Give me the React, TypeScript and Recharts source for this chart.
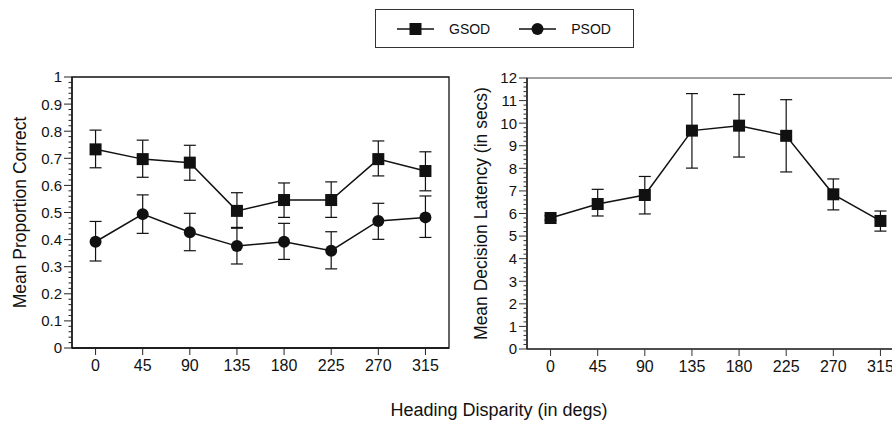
import React from 'react';
import { LineChart, Line, XAxis, YAxis, ErrorBar, ReferenceArea, Legend, Label } from 'recharts';

// ---- data ----
const headings = [0, 45, 90, 135, 180, 225, 270, 315];
const seriesNames = ['GSOD', 'PSOD'];

const gsodMean = [0.733, 0.697, 0.684, 0.506, 0.546, 0.546, 0.697, 0.653];
const gsodUpper = [0.804, 0.767, 0.748, 0.573, 0.609, 0.613, 0.764, 0.724];
const gsodLower = [0.665, 0.63, 0.619, 0.442, 0.482, 0.482, 0.635, 0.58];

const psodMean = [0.392, 0.494, 0.427, 0.376, 0.392, 0.359, 0.469, 0.482];
const psodUpper = [0.467, 0.565, 0.497, 0.445, 0.46, 0.429, 0.534, 0.561];
const psodLower = [0.321, 0.423, 0.359, 0.31, 0.327, 0.292, 0.401, 0.408];

const latencyMean = [5.8, 6.42, 6.82, 9.67, 9.89, 9.44, 6.85, 5.67];
const latencyUpper = [5.9, 7.07, 7.64, 11.31, 11.27, 11.04, 7.53, 6.11];
const latencyLower = [5.7, 5.89, 5.98, 8.01, 8.5, 7.84, 6.16, 5.22];

const propMajorTicks = [0, 0.1, 0.2, 0.3, 0.4, 0.5, 0.6, 0.7, 0.8, 0.9, 1];
const latMajorTicks = [0, 1, 2, 3, 4, 5, 6, 7, 8, 9, 10, 11, 12];
const minorPerMajor = 4;

const leftYLabel = 'Mean Proportion Correct';
const rightYLabel = 'Mean Decision Latency (in secs)';
const xLabel = 'Heading Disparity (in degs)';

// ---- derived tables ----
const propData = headings.map((h, i) => ({
  h,
  GSOD: gsodMean[i],
  gErr: [gsodMean[i] - gsodLower[i], gsodUpper[i] - gsodMean[i]],
  PSOD: psodMean[i],
  pErr: [psodMean[i] - psodLower[i], psodUpper[i] - psodMean[i]],
}));

const latData = headings.map((h, i) => ({
  h,
  GSOD: latencyMean[i],
  lErr: [latencyMean[i] - latencyLower[i], latencyUpper[i] - latencyMean[i]],
}));

const withMinor = (majors: number[]) => {
  const out: number[] = [...majors];
  for (let i = 0; i < majors.length - 1; i++) {
    const step = (majors[i + 1] - majors[i]) / (minorPerMajor + 1);
    for (let k = 1; k <= minorPerMajor; k++) out.push(majors[i] + k * step);
  }
  return out.sort((a, b) => a - b);
};

const FONT = "'Liberation Sans', Arial, Helvetica, sans-serif";
const INK = '#111';

const makeYTick = (majors: number[], color: string) => (props: any) => {
  const { x, y, payload } = props;
  const v = payload.value;
  const major = majors.some((m) => Math.abs(m - v) < 1e-9);
  return (
    <g>
      <line x1={x - (major ? 8 : 3.5)} x2={x} y1={y} y2={y} stroke={color} strokeWidth={1} />
      {major && (
        <text x={x - 10} y={y} dy="0.36em" textAnchor="end" fontSize={15} fill={INK} fontFamily={FONT}>
          {String(v)}
        </text>
      )}
    </g>
  );
};

const SquareDot = (props: any) => {
  const { cx, cy, index } = props;
  if (cx == null || cy == null) return <g key={index} />;
  return <rect key={index} x={cx - 6} y={cy - 6} width={12} height={12} fill={INK} />;
};
const CircleDot = (props: any) => {
  const { cx, cy, index } = props;
  if (cx == null || cy == null) return <g key={index} />;
  return <circle key={index} cx={cx} cy={cy} r={6} fill={INK} />;
};

const LegendIcon = ({ shape }: { shape: string }) => (
  <svg width={37} height={14} style={{ display: 'block' }}>
    <line x1={0} x2={37} y1={7} y2={7} stroke={INK} strokeWidth={1.5} />
    {shape === 'square' ? (
      <rect x={12.5} y={1} width={12} height={12} fill={INK} />
    ) : (
      <circle cx={18.5} cy={7} r={6} fill={INK} />
    )}
  </svg>
);

const renderLegend = (props: any) => {
  const payload = (props.payload || []).filter((p: any) => seriesNames.includes(p.value));
  return (
    <div
      style={{
        boxSizing: 'border-box',
        width: 259,
        height: 39,
        border: '1px solid #333',
        display: 'flex',
        alignItems: 'center',
        paddingLeft: 21,
        fontFamily: FONT,
        fontSize: 14,
        color: INK,
        background: '#fff',
      }}
    >
      {payload.map((p: any, i: number) => (
        <div key={p.value} style={{ display: 'flex', alignItems: 'center', marginRight: i === 0 ? 29 : 0 }}>
          <LegendIcon shape={i === 0 ? 'square' : 'circle'} />
          <span style={{ marginLeft: 15 }}>{p.value}</span>
        </div>
      ))}
    </div>
  );
};

export default function App() {
  const propTicks = withMinor(propMajorTicks);
  const latTicks = withMinor(latMajorTicks);
  return (
    <div
      style={{
        position: 'fixed',
        left: 0,
        top: 0,
        width: 892,
        height: 423,
        overflow: 'hidden',
        background: '#fff',
        fontFamily: FONT,
      }}
    >
      <div style={{ position: 'absolute', left: 0, top: 0 }}>
        <LineChart width={460} height={423} data={propData} margin={{ top: 77, right: 11, left: 0, bottom: 45 }}>
          <ReferenceArea x1={-22.5} x2={337.5} y1={0} y2={1} fill="none" stroke={INK} strokeWidth={1.3} ifOverflow="visible" />
          <XAxis
            type="number"
            dataKey="h"
            domain={[-22.5, 337.5]}
            ticks={headings}
            interval={0}
            height={30}
            tickSize={7}
            tickMargin={5}
            axisLine={{ stroke: INK, strokeWidth: 1.3 }}
            tickLine={{ stroke: '#222' }}
            tick={{ fontSize: 16, fill: INK, fontFamily: FONT }}
          />
          <YAxis
            type="number"
            domain={[0, 1]}
            ticks={propTicks}
            interval={0}
            width={72}
            tickSize={0}
            tickMargin={0}
            tickLine={false}
            axisLine={{ stroke: INK, strokeWidth: 1.3 }}
            tick={makeYTick(propMajorTicks, '#222')}
          >
            <Label
              value={leftYLabel}
              angle={-90}
              position="insideLeft"
              offset={20}
              style={{ textAnchor: 'middle', fontSize: 17.5, fill: INK, fontFamily: FONT }}
            />
          </YAxis>
          <Legend
            layout="vertical"
            align="center"
            verticalAlign="middle"
            wrapperStyle={{ left: 375, top: 9, width: 259, height: 39 }}
            content={renderLegend}
          />
          <Line
            name={seriesNames[0]}
            dataKey="GSOD"
            stroke={INK}
            strokeWidth={1.5}
            dot={SquareDot}
            activeDot={false}
            isAnimationActive={false}
          >
            <ErrorBar dataKey="gErr" direction="y" width={6} stroke={INK} strokeWidth={1.2} isAnimationActive={false} />
          </Line>
          <Line
            name={seriesNames[1]}
            dataKey="PSOD"
            stroke={INK}
            strokeWidth={1.5}
            dot={CircleDot}
            activeDot={false}
            isAnimationActive={false}
          >
            <ErrorBar dataKey="pErr" direction="y" width={6} stroke={INK} strokeWidth={1.2} isAnimationActive={false} />
          </Line>
        </LineChart>
      </div>

      <div style={{ position: 'absolute', left: 440, top: 0 }}>
        <LineChart width={480} height={423} data={latData} margin={{ top: 78, right: 16, left: 0, bottom: 44 }}>
          <ReferenceArea x1={-22.5} x2={337.5} y1={0} y2={12} fill="none" stroke="#444" strokeWidth={1.2} ifOverflow="visible" />
          <XAxis
            type="number"
            dataKey="h"
            domain={[-22.5, 337.5]}
            ticks={headings}
            interval={0}
            height={30}
            tickSize={7}
            tickMargin={5}
            axisLine={{ stroke: '#333', strokeWidth: 1.3 }}
            tickLine={{ stroke: '#333' }}
            tick={{ fontSize: 16, fill: INK, fontFamily: FONT }}
          />
          <YAxis
            type="number"
            domain={[0, 12]}
            ticks={latTicks}
            interval={0}
            width={87}
            tickSize={0}
            tickMargin={0}
            tickLine={false}
            axisLine={{ stroke: INK, strokeWidth: 1.3 }}
            tick={makeYTick(latMajorTicks, '#333')}
          >
            <Label
              value={rightYLabel}
              angle={-90}
              position="insideLeft"
              offset={41}
              style={{ textAnchor: 'middle', fontSize: 17.5, fill: INK, fontFamily: FONT }}
            />
          </YAxis>
          <Line
            name={seriesNames[0]}
            dataKey="GSOD"
            stroke={INK}
            strokeWidth={1.5}
            dot={SquareDot}
            activeDot={false}
            isAnimationActive={false}
          >
            <ErrorBar dataKey="lErr" direction="y" width={6} stroke={INK} strokeWidth={1.2} isAnimationActive={false} />
          </Line>
        </LineChart>
      </div>

      <div
        style={{
          position: 'absolute',
          left: 299,
          width: 400,
          top: 399,
          textAlign: 'center',
          fontSize: 18,
          lineHeight: '22px',
          color: INK,
          fontFamily: FONT,
        }}
      >
        {xLabel}
      </div>
    </div>
  );
}
